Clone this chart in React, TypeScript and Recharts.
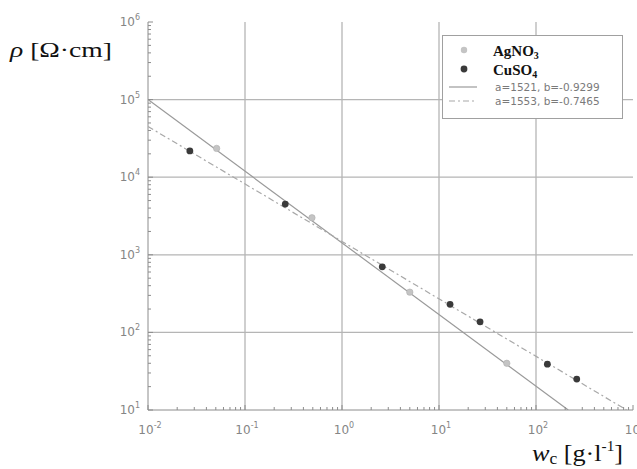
import React from "react";
import { ScatterChart, Scatter, XAxis, YAxis, ReferenceLine, Legend } from "recharts";

const agno3 = [
  { x: 0.051, y: 23500 },
  { x: 0.49, y: 3000 },
  { x: 5.0, y: 330 },
  { x: 50, y: 40 },
];

const cuso4 = [
  { x: 0.027, y: 21800 },
  { x: 0.26, y: 4500 },
  { x: 2.6, y: 700 },
  { x: 13, y: 230 },
  { x: 26.5, y: 137 },
  { x: 131, y: 39 },
  { x: 263, y: 25 },
];

// fitted power lines, end points as drawn
const fitSolid = [
  { x: 0.01, y: 100000 },
  { x: 215, y: 10 },
];
const fitDashed = [
  { x: 0.01, y: 45000 },
  { x: 860, y: 10 },
];

const legendNames = ["AgNO", "CuSO"];
const legendSubs = ["3", "4"];
const fitLabels = ["a=1521, b=-0.9299", "a=1553, b=-0.7465"];

const xDecades = [0.01, 0.1, 1, 10, 100, 1000];
const xExp = ["-2", "-1", "0", "1", "2", "3"];
const yDecades = [10, 100, 1000, 10000, 100000, 1000000];
const yExp = ["1", "2", "3", "4", "5", "6"];
const minorSteps = [2, 3, 4, 5, 6, 7, 8, 9];

const xTicks = [...xDecades, ...xDecades.slice(0, -1).flatMap((d) => minorSteps.map((m) => d * m))].sort((a, b) => a - b);
const yTicks = [...yDecades, ...yDecades.slice(0, -1).flatMap((d) => minorSteps.map((m) => d * m))].sort((a, b) => a - b);

const GRID = "#b5b5b5";
const AXIS = "#8c8c8c";
const LABEL = "#858585";
const SANS = "DejaVu Sans, sans-serif";
const SERIF = "Liberation Serif, serif";

function XTick({ x, y, payload }: any) {
  const i = xDecades.indexOf(payload.value);
  return (
    <g>
      <line x1={x} x2={x} y1={y} y2={y - (i >= 0 ? 5 : 3)} stroke={AXIS} />
      {i >= 0 && (
        <text x={x + 2} y={y + 24} textAnchor="middle" fill={LABEL} fontSize={12} fontFamily={SANS}>
          10<tspan dy={-6} fontSize={8}>{xExp[i]}</tspan>
        </text>
      )}
    </g>
  );
}

function TopTick({ x, y, payload }: any) {
  const i = xDecades.indexOf(payload.value);
  return <line x1={x} x2={x} y1={y} y2={y + (i >= 0 ? 5 : 3)} stroke={AXIS} />;
}

function YTick({ x, y, payload }: any) {
  const i = yDecades.indexOf(payload.value);
  return (
    <g>
      <line x1={x} x2={x + (i >= 0 ? 5 : 3)} y1={y} y2={y} stroke={AXIS} />
      {i >= 0 && (
        <text x={x - 8} y={y + 4} textAnchor="end" fill={LABEL} fontSize={12} fontFamily={SANS}>
          10<tspan dy={-6} fontSize={8}>{yExp[i]}</tspan>
        </text>
      )}
    </g>
  );
}

function RightTick({ x, y, payload }: any) {
  const i = yDecades.indexOf(payload.value);
  return <line x1={x} x2={x - (i >= 0 ? 5 : 3)} y1={y} y2={y} stroke={AXIS} />;
}

const lightDot = ({ cx, cy }: any) => <circle cx={cx} cy={cy} r={3.2} fill="#c4c4c4" stroke="#b0b0b0" strokeWidth={0.6} />;
const darkDot = ({ cx, cy }: any) => <circle cx={cx} cy={cy} r={3.4} fill="#3a3a3a" />;
const noDot = () => <g />;

function LegendBox() {
  return (
    <svg width={181} height={84} style={{ display: "block" }}>
      <rect x={0.5} y={0.5} width={180} height={83} fill="#fff" stroke="#a0a0a0" />
      <circle cx={22} cy={15} r={3.2} fill="#c4c4c4" />
      <circle cx={22} cy={34} r={3.4} fill="#3a3a3a" />
      {legendNames.map((n, i) => (
        <text key={n} x={51} y={21 + i * 19} fontFamily={SERIF} fontWeight="bold" fontSize={15} fill="#111">
          {n}
          <tspan dy={3} fontSize={10}>{legendSubs[i]}</tspan>
        </text>
      ))}
      <line x1={7} x2={35} y1={52} y2={52} stroke="#9a9a9a" strokeWidth={1.2} />
      <line x1={7} x2={35} y1={66} y2={66} stroke="#a8a8a8" strokeWidth={1.2} strokeDasharray="6 3 2 3" />
      {fitLabels.map((t, i) => (
        <text key={t} x={53} y={56 + i * 14} fontFamily={SANS} fontSize={10.5} fill="#7a7a7a">
          {t}
        </text>
      ))}
    </svg>
  );
}

const YTitle = () => (
  <text x={10} y={57} fontFamily={SERIF} fontSize={22} fill="#111" textLength={102} lengthAdjust="spacingAndGlyphs">
    <tspan fontStyle="italic">ρ</tspan> [Ω·cm]
  </text>
);

const XTitle = () => (
  <text x={532} y={461} fontFamily={SERIF} fontSize={24} fill="#111" textLength={91} lengthAdjust="spacingAndGlyphs">
    <tspan fontStyle="italic">w</tspan>
    <tspan fontSize={16} dy={3}>c</tspan>
    <tspan dy={-3}> [g·l</tspan>
    <tspan fontSize={14} dy={-10}>-1</tspan>
    <tspan dy={10}>]</tspan>
  </text>
);

export default function App() {
  return (
    <div style={{ position: "absolute", left: 0, top: 0, width: 637, height: 469, background: "#fff" }}>
      <ScatterChart width={637} height={469} margin={{ top: 22, right: 4, bottom: 0, left: 0 }}>
        <XAxis
          dataKey="x"
          type="number"
          scale="log"
          domain={[0.01, 1000]}
          allowDataOverflow
          ticks={xTicks}
          interval={0}
          tickSize={0}
          tickMargin={0}
          tick={<XTick />}
          height={59}
          axisLine={{ stroke: AXIS }}
          label={<XTitle />}
        />
        <XAxis
          xAxisId="top"
          orientation="top"
          type="number"
          scale="log"
          domain={[0.01, 1000]}
          allowDataOverflow
          ticks={xTicks}
          interval={0}
          tickSize={0}
          tickMargin={0}
          tick={<TopTick />}
          height={0}
          axisLine={{ stroke: AXIS }}
        />
        <YAxis
          dataKey="y"
          type="number"
          scale="log"
          domain={[10, 1000000]}
          allowDataOverflow
          ticks={yTicks}
          interval={0}
          tickSize={0}
          tickMargin={0}
          tick={<YTick />}
          width={148}
          axisLine={{ stroke: AXIS }}
          label={<YTitle />}
        />
        <YAxis
          yAxisId="right"
          orientation="right"
          type="number"
          scale="log"
          domain={[10, 1000000]}
          allowDataOverflow
          ticks={yTicks}
          interval={0}
          tickSize={0}
          tickMargin={0}
          tick={<RightTick />}
          width={0}
          axisLine={{ stroke: AXIS }}
        />
        {xDecades.slice(1, -1).map((v) => (
          <ReferenceLine key={"gx" + v} x={v} stroke={GRID} strokeWidth={1.3} />
        ))}
        {yDecades.slice(1, -1).map((v) => (
          <ReferenceLine key={"gy" + v} y={v} stroke={GRID} strokeWidth={1.3} />
        ))}
        <Scatter
          name="fit1"
          data={fitSolid}
          line={{ stroke: "#9a9a9a", strokeWidth: 1.2 }}
          shape={noDot}
          legendType="none"
          isAnimationActive={false}
        />
        <Scatter
          name="fit2"
          data={fitDashed}
          line={{ stroke: "#a8a8a8", strokeWidth: 1.2, strokeDasharray: "6 3 2 3" }}
          shape={noDot}
          legendType="none"
          isAnimationActive={false}
        />
        <Scatter name="AgNO3" data={agno3} shape={lightDot} legendType="none" isAnimationActive={false} />
        <Scatter name="CuSO4" data={cuso4} shape={darkDot} legendType="none" isAnimationActive={false} />
        <Legend
          layout="vertical"
          verticalAlign="middle"
          align="center"
          content={() => <LegendBox />}
          wrapperStyle={{ position: "absolute", left: 442, top: 35, width: 181, height: 84 }}
        />
      </ScatterChart>
    </div>
  );
}
